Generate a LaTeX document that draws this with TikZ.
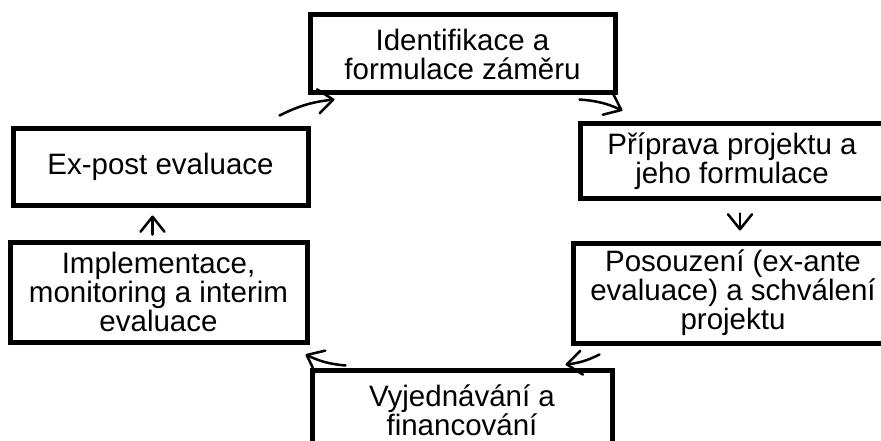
\documentclass[tikz,border=0pt]{standalone}
\usepackage{fontspec}
\setmainfont{Liberation Sans}
\usetikzlibrary{arrows.meta,calc}
\begin{document}
\begin{tikzpicture}[x=1pt,y=-1pt,
  box/.style={draw, line width=5pt, align=center, inner sep=0pt,
    font=\fontsize{29.5}{29}\selectfont},
  arr/.style={line width=2.5pt, line cap=round,
    -{Straight Barb[length=15pt,width=24pt,line cap=round,line join=round]}}]
\useasboundingbox (0,0) rectangle (881,441);
\clip (0,0) rectangle (881,441);
\fill[white] (0,0) rectangle (881,441);
\node[box, minimum width=305pt, minimum height=78pt] (n1) at (462.5,54) {Identifikace a\\formulace záměru};
\node[box, minimum width=304pt, minimum height=74pt] (n2) at (732,161) {Příprava projektu a\\jeho formulace};
\node[box, minimum width=320pt, minimum height=100pt] (n3) at (733,293) {Posouzení (ex-ante\\evaluace) a schválení\\projektu};
\node[box, minimum width=300pt, minimum height=80pt] (n4) at (462,410) {Vyjednávání a\\financování};
\node[box, minimum width=297pt, minimum height=100pt] (n5) at (158.5,292) {Implementace,\\monitoring a interim\\evaluace};
\node[box, minimum width=295pt, minimum height=76pt] (n6) at (160.5,167) {Ex-post evaluace};
\draw[arr] ($(n6.north east)+(-31,-11)$) to[bend left=10] ($(n1.south west)+(27,4)$);
\draw[arr] ($(n1.south east)+(-38,4)$) to[bend left=10] ($(n2.north west)+(45,-11)$);
\draw[arr] ($(n2.south)+(8,13)$) -- ($(n3.north)+(7,-10)$);
\draw[arr] ($(n3.south west)+(29,9)$) to[bend left=10] ($(n4.north east)+(-49,-3)$);
\draw[arr] ($(n4.north west)+(36,-2)$) to[bend left=10] ($(n5.south east)+(-4,10)$);
\draw[arr] ($(n5.north)+(-6,-5)$) -- ($(n6.south)+(-8,8)$);
\end{tikzpicture}
\end{document}
